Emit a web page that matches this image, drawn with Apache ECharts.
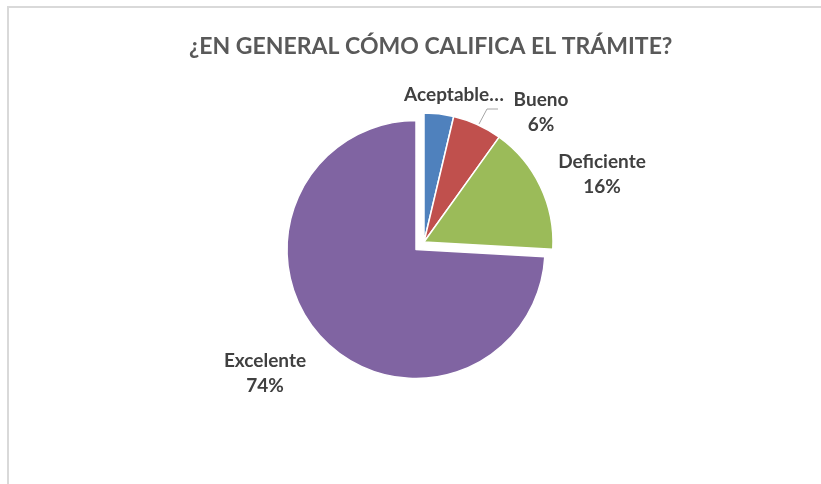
<!DOCTYPE html>
<html>
<head>
<meta charset="utf-8">
<script src="https://cdn.jsdelivr.net/npm/echarts@6/dist/echarts.min.js"></script>
<style>
html,body{margin:0;padding:0;background:#fff;}
#c{width:821px;height:484px;}
</style>
</head>
<body>
<div id="c"></div>
<script>
const categories = ['Aceptable', 'Bueno', 'Deficiente', 'Excelente'];
const values = [3.7, 6.2, 16.0, 74.1];
const labelTexts = ['Aceptable…', 'Bueno\n6%', 'Deficiente\n16%', 'Excelente\n74%'];
const colors = ['#4f81bd', '#c0504d', '#9bbb59', '#8064a2'];
const explodedIndex = 3;

const labelPos = [
  {x: 454, y: 95},
  {x: 541, y: 112, labelLinePoints: [[479, 124], [487, 109], [498, 109]]},
  {x: 602, y: 174},
  {x: 265, y: 373}
];

const pieBase = {
  type: 'pie',
  center: [424, 242],
  radius: [0, 129],
  startAngle: 90,
  clockwise: true,
  emphasis: {disabled: true}
};

const chart = echarts.init(document.getElementById('c'));
chart.setOption({
  animation: false,
  title: {
    text: '¿EN GENERAL CÓMO CALIFICA EL TRÁMITE?',
    left: 184,
    top: 30,
    textStyle: {fontFamily: 'Lato', fontWeight: 'bold', fontSize: 23, color: '#595959'}
  },
  graphic: [{
    type: 'rect',
    shape: {x: 8, y: 7, width: 900, height: 600},
    style: {fill: null, stroke: '#d9d9d9', lineWidth: 2}
  }],
  series: [
    Object.assign({}, pieBase, {
      selectedMode: 'multiple',
      selectedOffset: 11,
      itemStyle: {borderColor: '#ffffff', borderWidth: 1.5},
      label: {show: false},
      labelLine: {show: false},
      data: categories.map((n, i) => ({
        name: n,
        value: values[i],
        selected: i === explodedIndex,
        itemStyle: {color: colors[i]}
      }))
    }),
    Object.assign({}, pieBase, {
      silent: true,
      z: 3,
      itemStyle: {color: 'rgba(0,0,0,0)', borderWidth: 0},
      label: {
        show: true,
        position: 'outside',
        formatter: p => labelTexts[p.dataIndex],
        fontFamily: 'Lato',
        fontWeight: 'bold',
        fontSize: 19,
        lineHeight: 25,
        color: '#404040',
        align: 'center'
      },
      labelLine: {show: false},
      labelLayout: p => Object.assign({align: 'center', verticalAlign: 'middle'}, labelPos[p.dataIndex]),
      data: categories.map((n, i) => ({
        name: n,
        value: values[i],
        labelLine: i === 1 ? {show: true, length: 8, length2: 10, lineStyle: {color: '#a6a6a6', width: 1}} : {show: false}
      }))
    })
  ]
});
</script>
</body>
</html>
